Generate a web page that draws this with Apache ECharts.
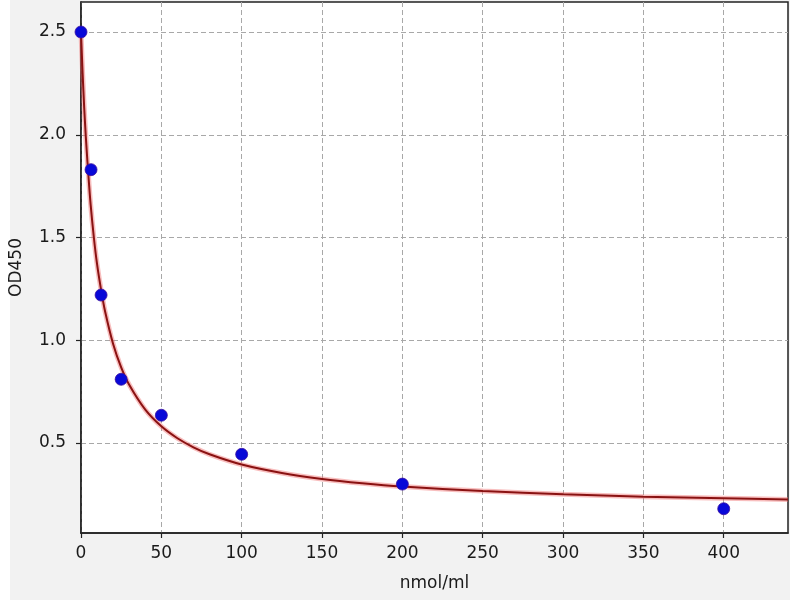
<!DOCTYPE html>
<html>
<head>
<meta charset="utf-8">
<script src="https://cdn.jsdelivr.net/npm/echarts@6/dist/echarts.min.js"></script>
<style>
html,body{margin:0;padding:0;background:#ffffff;}
#bg{position:absolute;left:10px;top:0;width:780px;height:600px;background:#f2f2f2;}
#chart{position:absolute;left:0;top:0;width:800px;height:600px;}
</style>
</head>
<body>
<div id="bg"></div>
<div id="chart"></div>
<script>
// Standard points (concentration nmol/ml, OD450)
const concentrations = [0, 6.25, 12.5, 25, 50, 100, 200, 400];
const odValues = [2.50, 1.83, 1.22, 0.81, 0.635, 0.445, 0.30, 0.18];

// Fitted curve
const curveX = [0, 1, 2, 3, 4, 5, 6, 8, 10, 12.5, 15, 20, 25, 30, 40, 50, 60, 70, 80, 100, 125, 150, 175, 200, 250, 300, 350, 400, 440];
const curveY = [2.50, 2.30, 2.13, 1.99, 1.87, 1.76, 1.66, 1.50, 1.37, 1.245, 1.14, 0.982, 0.868, 0.783, 0.662, 0.581, 0.523, 0.479, 0.445, 0.395, 0.354, 0.325, 0.304, 0.288, 0.266, 0.250, 0.239, 0.231, 0.225];

// Tick labels
const xTicks = [0, 50, 100, 150, 200, 250, 300, 350, 400];
const yTicks = [0.5, 1.0, 1.5, 2.0, 2.5];

const chart = echarts.init(document.getElementById('chart'));
const font = 'DejaVu Sans';

chart.setOption({
  backgroundColor: 'transparent',
  animation: false,
  textStyle: {fontFamily: font},
  grid: {
    left: 80, top: 2, right: 12, bottom: 67,
    show: true, backgroundColor: '#ffffff', borderColor: '#222', borderWidth: 1.5
  },
  xAxis: {
    type: 'value', min: 0, max: 440, interval: 50,
    name: 'nmol/ml', nameLocation: 'middle', nameGap: 42,
    nameTextStyle: {fontSize: 17, color: '#1a1a1a', fontFamily: font},
    axisLine: {show: true, onZero: false, lineStyle: {color: '#222', width: 1.5}},
    axisTick: {show: true, inside: false, length: 5, customValues: xTicks, lineStyle: {color: '#222', width: 1.2}},
    axisLabel: {customValues: xTicks, fontSize: 17, color: '#1a1a1a', margin: 12, fontFamily: font,
      formatter: v => String(v)},
    splitLine: {show: true, lineStyle: {color: '#a8a8a8', type: [5, 3], width: 1}}
  },
  yAxis: {
    type: 'value', min: 0.062, max: 2.646, splitNumber: 5,
    name: 'OD450', nameLocation: 'middle', nameGap: 56,
    nameTextStyle: {fontSize: 17, color: '#1a1a1a', fontFamily: font},
    axisLine: {show: true, onZero: false, lineStyle: {color: '#222', width: 1.5}},
    axisTick: {show: true, inside: false, length: 5, customValues: yTicks, lineStyle: {color: '#222', width: 1.2}},
    axisLabel: {customValues: yTicks, fontSize: 17, color: '#1a1a1a', margin: 15, fontFamily: font,
      formatter: v => v.toFixed(1)},
    splitLine: {show: true, lineStyle: {color: '#a8a8a8', type: [5, 3], width: 1}}
  },
  series: [
    {
      type: 'line', smooth: 0.3, showSymbol: false, silent: true,
      data: curveX.map((x, i) => [x, curveY[i]]),
      lineStyle: {color: 'rgba(240,110,110,0.45)', width: 5},
      z: 2
    },
    {
      type: 'line', smooth: 0.3, showSymbol: false, silent: true,
      data: curveX.map((x, i) => [x, curveY[i]]),
      lineStyle: {color: '#8a1212', width: 2},
      z: 3
    },
    {
      type: 'scatter', symbol: 'circle', symbolSize: 12,
      data: concentrations.map((x, i) => [x, odValues[i]]),
      itemStyle: {color: '#0808d8', borderColor: '#3a10a0', borderWidth: 0.8, opacity: 1},
      z: 4
    }
  ]
});
</script>
</body>
</html>
